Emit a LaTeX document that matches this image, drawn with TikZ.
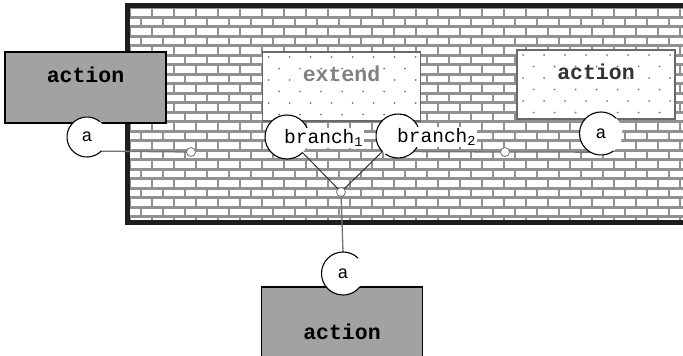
\documentclass[tikz,border=0pt]{standalone}
\usepackage{fontspec}
\setmonofont{Liberation Mono}
\usepackage{xcolor}
\usetikzlibrary{calc}
\definecolor{WallMortar}{RGB}{145,145,145}
\definecolor{WallEdge}{RGB}{30,30,30}
\definecolor{BoxDark}{RGB}{162,162,162}
\definecolor{BoxEdge}{RGB}{105,105,105}
\definecolor{Speck}{RGB}{120,120,120}
\definecolor{WireGray}{RGB}{115,115,115}

\tikzset{
  actionbox/.style={rectangle, draw=black, line width=1.4pt, fill=BoxDark,
    minimum width=161pt, minimum height=71pt, inner sep=0pt,
    font=\fontsize{21.5}{24}\selectfont\ttfamily\bfseries,
    text height=12pt, text depth=22pt},
  ghostbox/.style={rectangle, draw=BoxEdge, line width=1.6pt, fill=white,
    minimum width=158pt, minimum height=69pt, inner sep=0pt,
    font=\fontsize{21.5}{24}\selectfont\ttfamily\bfseries,
    text height=12pt, text depth=22pt,
    path picture={
      \foreach \i in {0,...,8}{
        \foreach \j in {0,...,6}{
          \fill[Speck] ($(path picture bounding box.north west)+({\i*21+mod(\j,2)*10.5+6},{\j*11.5+5})$) circle (1pt);
        }
      }
    }},
  port/.style={circle, fill=white, minimum size=#1, inner sep=0pt, outer sep=0pt,
    font=\fontsize{18}{18}\selectfont\ttfamily},
  portline/.style={draw=black, line width=1.1pt},
  branchtag/.style={fill=white, inner sep=1pt, anchor=west,
    font=\fontsize{19.5}{19.5}\selectfont\ttfamily},
  joint/.style={circle, draw=WireGray, fill=white, line width=0.8pt,
    minimum size=9pt, inner sep=0pt, outer sep=0pt},
  wire/.style={draw=WireGray, line width=1.3pt},
  branchwire/.style={draw=black!80, line width=1pt}
}
\newcommand{\portarc}[4]{\draw[portline] (#1.#2) arc[start angle=#2, end angle=#3, radius=#4];}

\begin{document}
\begin{tikzpicture}[x=1pt, y=-1pt]
  \useasboundingbox (0,0) rectangle (683,356);

  % brick wall
  \fill[WallMortar] (128,6) rectangle (690,222);
  \begin{scope}
    \clip (130,8) rectangle (690,220);
    \foreach \r in {0,...,22}{
      \foreach \c in {-1,...,25}{
        \pgfmathsetmacro\bx{130+\c*22+mod(\r,2)*11}
        \pgfmathsetmacro\by{8+\r*9.5}
        \fill[white] (\bx+1.2,\by+1.2) rectangle (\bx+20.8,\by+7.8);
      }
    }
  \end{scope}
  \draw[WallEdge, line width=5pt] (127.5,5.5) rectangle (700,222.5);

  % boxes
  \node[actionbox] (actL) at (85.5,87.5) {action};
  \node[ghostbox, text=black!50] (ext) at (341.5,86.5) {extend};
  \node[ghostbox, text=black!80] (actR) at (596,84.5) {action};
  \node[actionbox, minimum height=92pt, text depth=0pt] (actB) at (342,333) {action};

  % joints
  \node[joint] (s1) at (191,152) {};
  \node[joint] (s2) at (505,152) {};
  \node[joint] (j) at (341,192) {};

  % ports
  \node[port=40pt] (aL) at (87,137) {a};
  \node[port=44pt] (br1) at (287,137) {};
  \node[port=44pt] (br2) at (398,136) {};
  \node[port=43pt] (aR) at (601,133.5) {a};
  \node[port=43pt] (aB) at (343,273.5) {a};

  % connectors
  \draw[wire] (aL.-45) -- (s1);
  \draw[wire] (br2.-45) -- (s2);
  \draw[wire] (s2) -- (aR.240);
  \draw[branchwire] (br1.-45) -- (j);
  \draw[branchwire] (br2.225) -- (j);
  \draw[wire] (j) -- (aB.90);

  % port outlines
  \portarc{aL}{50}{315}{20pt}
  \portarc{br1}{0}{315}{22pt}
  \portarc{br2}{235}{585}{22pt}
  \portarc{aR}{45}{305}{21.5pt}
  \portarc{aB}{45}{322}{21.5pt}

  % branch labels
  \node[branchtag] (br1t) at (283,138) {branch\textsubscript{1}};
  \node[branchtag] (br2t) at (396,137) {branch\textsubscript{2}};
\end{tikzpicture}
\end{document}
